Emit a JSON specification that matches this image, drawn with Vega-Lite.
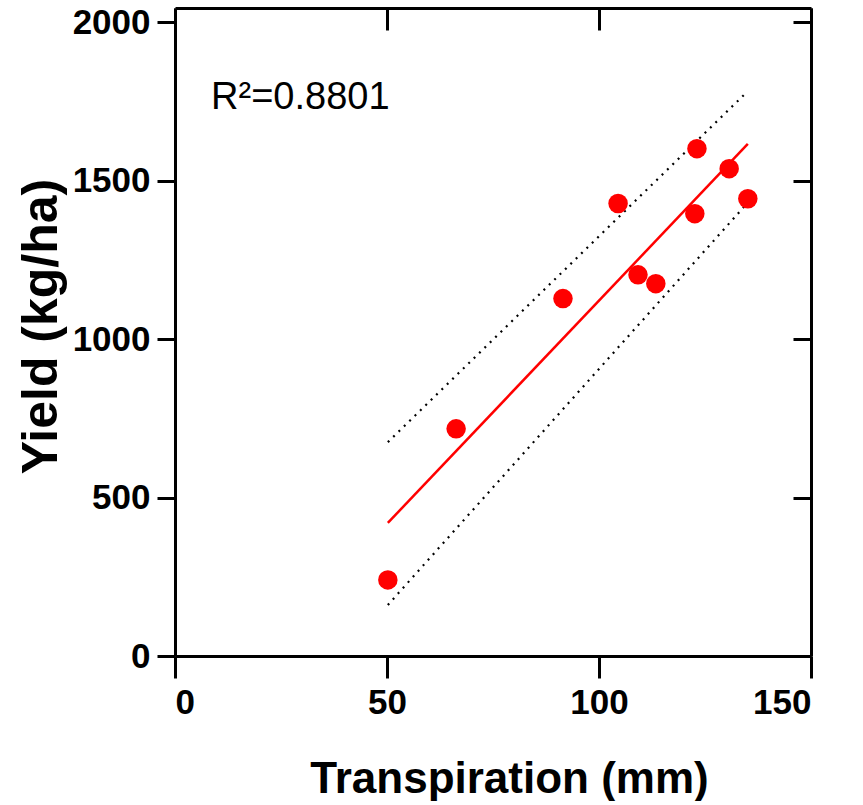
{
  "$schema": "https://vega.github.io/schema/vega-lite/v6.json",
  "width": 636,
  "height": 648,
  "padding": {"left": 16, "top": 5, "right": 5, "bottom": 0},
  "background": "white",
  "config": {
    "view": {"stroke": null},
    "axis": {
      "domainColor": "black",
      "domainWidth": 3,
      "tickColor": "black",
      "tickWidth": 3,
      "grid": false,
      "labelColor": "black",
      "labelFont": "Liberation Sans",
      "labelFontWeight": "bold",
      "labelFontSize": 35,
      "titleColor": "black",
      "titleFont": "Liberation Sans",
      "titleFontWeight": "bold",
      "titleFontSize": 44
    }
  },
  "datasets": {
    "points": [
      {"transpiration": 50.2, "yield": 240},
      {"transpiration": 66.3, "yield": 717},
      {"transpiration": 91.5, "yield": 1128},
      {"transpiration": 104.5, "yield": 1428},
      {"transpiration": 109.2, "yield": 1203},
      {"transpiration": 113.4, "yield": 1175},
      {"transpiration": 123.1, "yield": 1601},
      {"transpiration": 122.6, "yield": 1396},
      {"transpiration": 130.7, "yield": 1538},
      {"transpiration": 135.1, "yield": 1443}
    ],
    "fit": [
      {"transpiration": 50.2, "yield": 420},
      {"transpiration": 135.1, "yield": 1616}
    ],
    "upper": [
      {"transpiration": 50.2, "yield": 675},
      {"transpiration": 134.3, "yield": 1772}
    ],
    "lower": [
      {"transpiration": 50.2, "yield": 161},
      {"transpiration": 134.9, "yield": 1428}
    ],
    "note": [
      {"transpiration": 8.5, "yield": 1725, "label": "R²=0.8801"}
    ]
  },
  "resolve": {"axis": {"x": "independent", "y": "independent"}},
  "layer": [
    {
      "data": {"name": "upper"},
      "mark": {"type": "line", "color": "black", "strokeWidth": 2.2, "strokeDash": [2, 5.5]},
      "encoding": {
        "x": {"field": "transpiration", "type": "quantitative", "scale": {"domain": [0, 150], "nice": false}, "axis": null},
        "y": {"field": "yield", "type": "quantitative", "scale": {"domain": [0, 2045], "nice": false}, "axis": null}
      }
    },
    {
      "data": {"name": "lower"},
      "mark": {"type": "line", "color": "black", "strokeWidth": 2.2, "strokeDash": [2, 5.5]},
      "encoding": {
        "x": {"field": "transpiration", "type": "quantitative", "scale": {"domain": [0, 150], "nice": false}, "axis": null},
        "y": {"field": "yield", "type": "quantitative", "scale": {"domain": [0, 2045], "nice": false}, "axis": null}
      }
    },
    {
      "data": {"name": "fit"},
      "mark": {"type": "line", "color": "#ff0000", "strokeWidth": 2.5},
      "encoding": {
        "x": {"field": "transpiration", "type": "quantitative", "scale": {"domain": [0, 150], "nice": false},
          "axis": {"orient": "top", "labels": false, "title": null, "tickSize": -22, "values": [0, 50, 100, 150]}},
        "y": {"field": "yield", "type": "quantitative", "scale": {"domain": [0, 2045], "nice": false},
          "axis": {"orient": "right", "labels": false, "title": null, "tickSize": -18, "values": [0, 500, 1000, 1500, 2000]}}
      }
    },
    {
      "data": {"name": "points"},
      "mark": {"type": "point", "shape": "circle", "filled": true, "color": "#ff0000", "opacity": 1, "size": 380},
      "encoding": {
        "x": {"field": "transpiration", "type": "quantitative", "scale": {"domain": [0, 150], "nice": false},
          "axis": {"orient": "bottom", "title": "Transpiration (mm)", "format": "d", "values": [0, 50, 100, 150], "tickSize": 22, "labelPadding": 7, "titlePadding": 37, "titleX": 334}},
        "y": {"field": "yield", "type": "quantitative", "scale": {"domain": [0, 2045], "nice": false},
          "axis": {"orient": "left", "title": "Yield (kg/ha)", "format": "d", "values": [0, 500, 1000, 1500, 2000], "tickSize": 18, "labelPadding": 7, "titlePadding": 6, "titleFontSize": 50, "titleY": 318}}
      }
    },
    {
      "data": {"name": "note"},
      "mark": {"type": "text", "align": "left", "baseline": "alphabetic", "font": "Liberation Sans", "fontSize": 38, "color": "black"},
      "encoding": {
        "x": {"field": "transpiration", "type": "quantitative", "scale": {"domain": [0, 150], "nice": false}, "axis": null},
        "y": {"field": "yield", "type": "quantitative", "scale": {"domain": [0, 2045], "nice": false}, "axis": null},
        "text": {"field": "label"}
      }
    }
  ]
}
